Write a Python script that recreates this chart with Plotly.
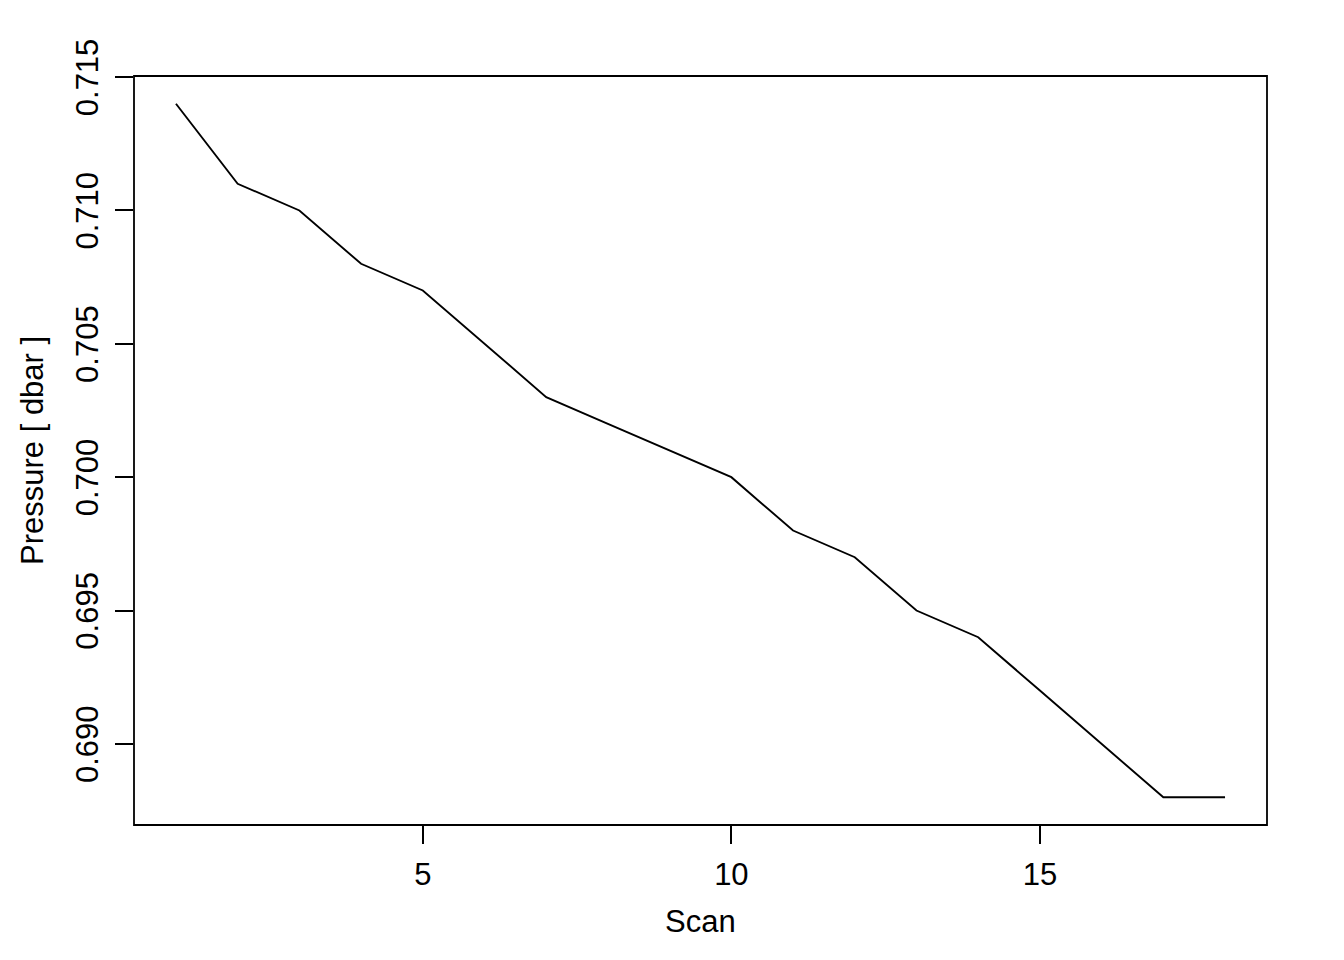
import plotly.graph_objects as go

scan = list(range(1, 19))
pressure = [0.714, 0.711, 0.710, 0.708, 0.707, 0.705, 0.703, 0.702, 0.701,
            0.700, 0.698, 0.697, 0.695, 0.694, 0.692, 0.690, 0.688, 0.688]
x_ticks = [5, 10, 15]
y_ticks = [0.690, 0.695, 0.700, 0.705, 0.710, 0.715]
y_tick_text = ["0.690", "0.695", "0.700", "0.705", "0.710", "0.715"]

# R-style 4% padding of the data range
xpad = (max(scan) - min(scan)) * 0.04
ypad = (max(pressure) - min(pressure)) * 0.04

fig = go.Figure()
fig.add_trace(go.Scatter(x=scan, y=pressure, mode="lines",
                         line=dict(color="black", width=1.9), showlegend=False))

font = dict(family="Liberation Sans, Arial, sans-serif", size=31, color="black")

# page body has an 8px margin, so the plot area is shifted back by 8px
fig.update_layout(
    width=1344, height=960,
    margin=dict(l=126, r=85, t=68, b=143),
    plot_bgcolor="white", paper_bgcolor="white",
    font=font,
)
fig.update_xaxes(range=[min(scan) - xpad, max(scan) + xpad], tickvals=x_ticks,
                 ticks="outside", ticklen=18, tickwidth=1.5, tickcolor="black",
                 showgrid=False, zeroline=False, showline=False,
                 ticklabelstandoff=4)
fig.update_yaxes(range=[min(pressure) - ypad, max(pressure) + ypad],
                 tickvals=y_ticks, ticktext=y_tick_text, tickangle=-90,
                 ticks="outside", ticklen=18, tickwidth=1.5, tickcolor="black",
                 showgrid=False, zeroline=False, showline=False,
                 ticklabelstandoff=5, ticklabelshift=5)

# plot box
fig.add_shape(type="rect", xref="paper", yref="paper", x0=0, y0=0, x1=1, y1=1,
              line=dict(color="black", width=1.8))

# axis titles
fig.add_annotation(text="Scan", xref="paper", yref="paper", x=0.5, y=0,
                   yshift=-116, showarrow=False, font=font)
fig.add_annotation(text="Pressure [ dbar ]", xref="paper", yref="paper", x=0, y=0.5,
                   xshift=-121, textangle=-90, showarrow=False, font=font)

fig.write_html("out.html")
